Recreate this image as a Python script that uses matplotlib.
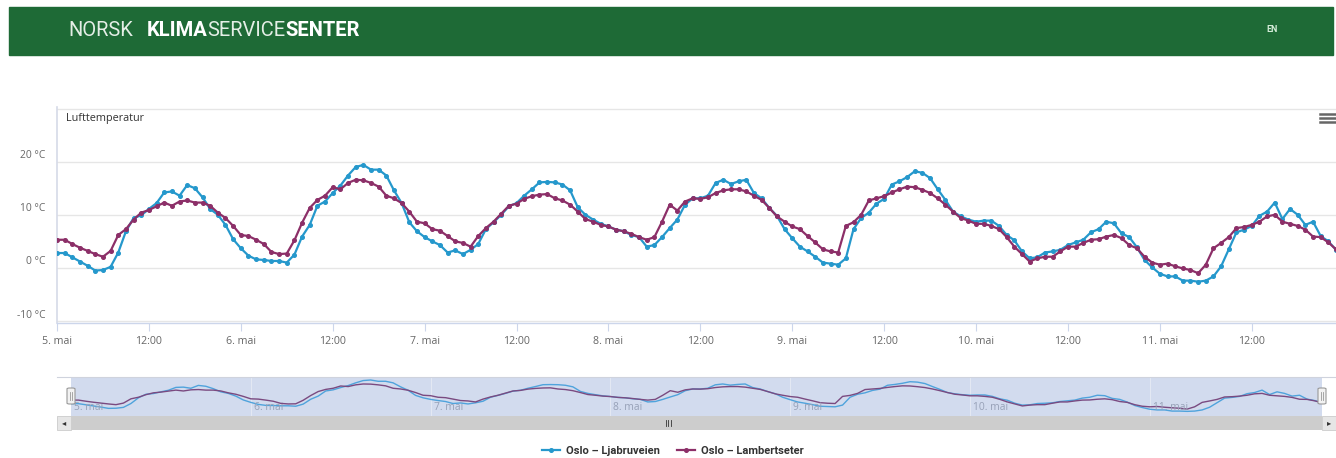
import numpy as np
import matplotlib
matplotlib.use("Agg")
import matplotlib.pyplot as plt
from matplotlib.lines import Line2D
from matplotlib.patches import Rectangle, FancyBboxPatch
import matplotlib.transforms as mtransforms

# ---------------- data ----------------
series_names = ["Oslo – Ljabruveien", "Oslo – Lambertseter"]

ljabruveien = [
    2.8, 2.8, 2.0, 1.2, 0.4, -0.5, -0.4, 0.2, 2.9, 6.9, 9.4, 9.9, 11.1, 12.2, 14.2, 14.4, 13.6, 15.6, 15.0, 13.3,
    11.1, 10.0, 8.1, 5.4, 3.7, 2.3, 1.6, 1.5, 1.3, 1.3, 1.0, 2.5, 5.9, 8.1,
    11.7, 12.5, 14.1, 15.5, 17.4, 19.0, 19.4, 18.5, 18.5, 17.4, 14.6, 12.2, 8.6, 6.9, 5.8, 5.0, 4.3, 2.9, 3.3, 2.6,
    3.4, 4.5, 7.3, 8.6, 10.0, 11.6, 12.2, 13.6, 14.8, 16.1, 16.2, 16.1, 15.7,
    14.6, 11.4, 10.0, 9.1, 8.3, 7.8, 7.2, 6.9, 6.2, 5.8, 4.0, 4.3, 5.8, 7.5, 9.1, 11.9, 13.1, 13.1, 13.6, 16.0,
    16.6, 15.8, 16.3, 16.6, 14.1, 13.1, 11.3, 9.8, 7.3, 5.6, 4.0, 3.1, 2.1, 1.0,
    0.8, 0.6, 1.8, 7.3, 9.4, 10.4, 12.1, 13.0, 15.7, 16.3, 17.1, 18.2, 17.9, 16.9, 14.8, 12.8, 10.6, 9.7, 9.1, 8.7,
    8.9, 8.9, 7.9, 6.2, 5.2, 3.1, 1.8, 2.0, 2.9, 3.1, 3.4, 4.3, 4.8,
    5.3, 6.7, 7.3, 8.7, 8.4, 6.5, 5.8, 3.9, 1.5, 0.1, -1.1, -1.6, -1.6, -2.4, -2.4, -2.6, -2.4, -1.6, 0.3, 3.5,
    6.7, 7.2, 7.9, 9.8, 10.6, 12.3, 9.2, 11.1, 10.0, 8.1, 8.7, 6.0, 5.0, 3.4,
]

lambertseter = [
    5.3, 5.3, 4.5, 3.8, 3.2, 2.6, 2.1, 3.2, 6.2, 7.3, 9.1, 10.4, 10.9, 11.6, 12.3, 11.7, 12.5, 12.7, 12.3, 12.3,
    11.7, 10.4, 9.4, 7.9, 6.2, 6.0, 5.3, 4.5, 3.0, 2.6, 2.7, 5.2, 8.5, 11.3,
    12.8, 13.6, 15.2, 14.8, 16.0, 16.6, 16.5, 16.0, 15.3, 13.6, 13.1, 12.2, 10.6, 8.7, 8.4, 7.3, 7.0, 6.0, 5.0, 4.7,
    4.0, 6.0, 7.5, 8.7, 10.2, 11.7, 12.1, 13.0, 13.5, 13.8, 13.9, 13.1, 12.7,
    11.9, 10.6, 9.2, 8.7, 8.1, 7.8, 7.2, 6.9, 6.4, 5.8, 5.3, 5.8, 8.7, 11.9, 10.8, 12.5, 13.1, 13.0, 13.3, 14.1,
    14.6, 14.8, 14.8, 14.4, 13.6, 12.8, 11.3, 9.7, 8.7, 7.8, 7.3, 6.0, 4.8, 3.5,
    3.1, 2.9, 7.9, 8.6, 10.0, 12.7, 13.1, 13.5, 14.2, 14.8, 15.3, 15.2, 14.7, 14.1, 13.1, 11.9, 10.6, 9.4, 8.9, 8.3,
    8.3, 7.9, 7.3, 5.8, 4.0, 2.6, 1.2, 1.8, 2.1, 2.1, 3.1, 4.0, 4.0,
    4.7, 5.3, 5.4, 5.9, 6.2, 5.6, 4.3, 3.7, 2.1, 1.0, 0.6, 0.8, 0.3, -0.1, -0.4, -1.0, 0.6, 3.7, 4.7, 5.8,
    7.5, 7.7, 8.1, 8.7, 9.7, 10.0, 8.7, 8.3, 7.9, 7.2, 5.9, 5.8, 4.8, 3.5,
]

hours = np.arange(len(ljabruveien))
xtick_hours = list(range(0, 168, 12))
xtick_labels = ["5. mai", "12:00", "6. mai", "12:00", "7. mai", "12:00", "8. mai", "12:00",
                "9. mai", "12:00", "10. mai", "12:00", "11. mai", "12:00"]
ytick_values = [-10, 0, 10, 20]
ytick_labels = ["-10 °C", "0 °C", "10 °C", "20 °C"]
nav_day_hours = list(range(0, 168, 24))
nav_day_labels = ["5. mai", "6. mai", "7. mai", "8. mai", "9. mai", "10. mai", "11. mai"]
chart_title = "Lufttemperatur"
header_parts = [("NORSK", "normal"), ("KLIMA", "bold"), ("SERVICE", "normal"), ("SENTER", "bold")]
lang_label = "EN"

# ---------------- style ----------------
W, H, DPI = 1336, 458, 100
GREEN = "#1e6a36"
BLUE = "#2598cc"
PURPLE = "#8c2f68"
GRID = "#e6e6e6"
AXIS = "#ccd6eb"
LABEL = "#666666"

plt.rcParams["font.family"] = ["Open Sans", "DejaVu Sans"]

fig = plt.figure(figsize=(W / DPI, H / DPI), dpi=DPI)
fig.patch.set_facecolor("white")


def rect(x0, y0, x1, y1):
    return [x0 / W, 1 - y1 / H, (x1 - x0) / W, (y1 - y0) / H]


def fx(x):
    return x / W


def fy(y):
    return 1 - y / H


# ---------------- header ----------------
fig.patches.append(Rectangle((fx(9), fy(55)), (1333 - 9) / W, 48 / H,
                             transform=fig.transFigure, color=GREEN, zorder=0))
renderer = fig.canvas.get_renderer()
xpos = 68
for i, (txt, wt) in enumerate(header_parts):
    if i == 1:
        xpos = 147
    t = fig.text(fx(xpos), fy(31), txt, fontsize=14.5, fontweight=wt,
                 color="white" if wt == "bold" else "#e4eee6",
                 family=["Roboto", "DejaVu Sans"], va="center", ha="left")
    xpos += t.get_window_extent(renderer).width
fig.text(fx(1272), fy(30), lang_label, fontsize=6.5, fontweight="bold", color="#d4ecd8",
         family=["Roboto", "DejaVu Sans"], va="center", ha="center")

# ---------------- main chart ----------------
ax = fig.add_axes(rect(57, 107, 1336, 322.6))
ax.set_xlim(0, 167)
ax.set_ylim(-10.3, 30.3)
ax.set_yticks([-10, 0, 10, 20, 30])
ax.yaxis.grid(True, color=GRID, lw=1.0)
ax.set_axisbelow(True)
ax.tick_params(axis="y", length=0, labelleft=False)
for s in ["top", "right"]:
    ax.spines[s].set_visible(False)
ax.spines["left"].set_color("#d6dae8")
ax.spines["left"].set_linewidth(1.2)
ax.spines["bottom"].set_color(AXIS)
ax.spines["bottom"].set_linewidth(1.0)

ax.set_xticks(xtick_hours, xtick_labels)
ax.tick_params(axis="x", length=6, width=0.8, color=AXIS, pad=3.5,
               labelsize=7.7, labelcolor=LABEL)

ylab_tr = mtransforms.blended_transform_factory(ax.transAxes, ax.transData) + \
    mtransforms.ScaledTranslation(-0.12, 0.06, fig.dpi_scale_trans)
for v, lab in zip(ytick_values, ytick_labels):
    ax.text(0, v, lab, transform=ylab_tr, ha="right", va="center",
            fontsize=7.4, color=LABEL)

l1, = ax.plot(hours, ljabruveien, color=BLUE, lw=1.6, marker="o", ms=2.6,
              label=series_names[0], zorder=3)
l2, = ax.plot(hours, lambertseter, color=PURPLE, lw=1.6, marker="o", ms=2.6,
              label=series_names[1], zorder=3)

fig.text(fx(66), fy(118), chart_title, fontsize=7.8, color="#333333", va="center", ha="left")
for yy in (114, 118, 122):
    fig.add_artist(Line2D([fx(1320), fx(1335)], [fy(yy), fy(yy)], color="#666666",
                          lw=1.8, transform=fig.transFigure))

# ---------------- navigator ----------------
nav = fig.add_axes(rect(71, 377, 1322, 415.5))
nav.set_facecolor("#d2dbee")
nav.set_xlim(0, 167)
nav.set_ylim(-5.5, 21.5)
for s in nav.spines.values():
    s.set_visible(False)
nav.set_xticks([])
nav.set_yticks([])
for h_ in nav_day_hours[1:]:
    nav.axvline(h_, color="#e3e8f3", lw=0.8, zorder=1)
nav.plot(hours, ljabruveien, color="#4fa3dc", lw=1.0, zorder=2)
nav.plot(hours, lambertseter, color="#7a4a80", lw=1.0, zorder=2)
navlab_tr = mtransforms.blended_transform_factory(nav.transData, nav.transAxes) + \
    mtransforms.ScaledTranslation(0.03, 0, fig.dpi_scale_trans)
for h_, lab in zip(nav_day_hours, nav_day_labels):
    nav.text(h_, 0.22, lab, transform=navlab_tr, ha="left", va="center",
             fontsize=7.4, color="#97a1b7", zorder=3)
fig.add_artist(Line2D([fx(57), fx(1336)], [fy(377), fy(377)], color="#cfd3dd", lw=0.8,
                      transform=fig.transFigure))

# handles
for hx in (71, 1322):
    fig.patches.append(FancyBboxPatch((fx(hx - 4), fy(404)), 8 / W, 16 / H,
                                      boxstyle="round,pad=0,rounding_size=0.002",
                                      transform=fig.transFigure, facecolor="#f2f2f2",
                                      edgecolor="#999999", lw=0.8, zorder=5))
    for dx in (-1.2, 1.2):
        fig.add_artist(Line2D([fx(hx + dx), fx(hx + dx)], [fy(392), fy(400)],
                              color="#999999", lw=0.6, transform=fig.transFigure, zorder=6))

# scrollbar
fig.patches.append(Rectangle((fx(57), fy(430)), (1336 - 57) / W, 14.5 / H,
                             transform=fig.transFigure, facecolor="#f2f2f2",
                             edgecolor="none", zorder=1))
fig.patches.append(Rectangle((fx(71), fy(430)), (1322 - 71) / W, 14.5 / H,
                             transform=fig.transFigure, facecolor="#cdcdcd",
                             edgecolor="none", zorder=2))
for bx in (57, 1322):
    fig.patches.append(Rectangle((fx(bx), fy(430)), 14 / W, 14.5 / H,
                                 transform=fig.transFigure, facecolor="#e6e6e6",
                                 edgecolor="#cccccc", lw=0.6, zorder=3))
fig.text(fx(64), fy(423), "◂", fontsize=6, color="#333333", ha="center", va="center",
         family=["DejaVu Sans"], zorder=4)
fig.text(fx(1329), fy(423), "▸", fontsize=6, color="#333333", ha="center", va="center",
         family=["DejaVu Sans"], zorder=4)
for dx in (-2.5, 0, 2.5):
    fig.add_artist(Line2D([fx(668 + dx), fx(668 + dx)], [fy(420), fy(426)],
                          color="#333333", lw=0.6, transform=fig.transFigure, zorder=4))

# ---------------- legend ----------------
leg = fig.legend(handles=[l1, l2], loc="center", bbox_to_anchor=(fx(673), fy(451)),
                 ncol=2, frameon=False, handlelength=1.6, handletextpad=0.5,
                 columnspacing=1.6, markerscale=1.0,
                 prop={"family": ["Roboto", "DejaVu Sans"], "weight": "bold", "size": 8})
for t in leg.get_texts():
    t.set_color("#333333")

fig.savefig("out.png", dpi=DPI)
